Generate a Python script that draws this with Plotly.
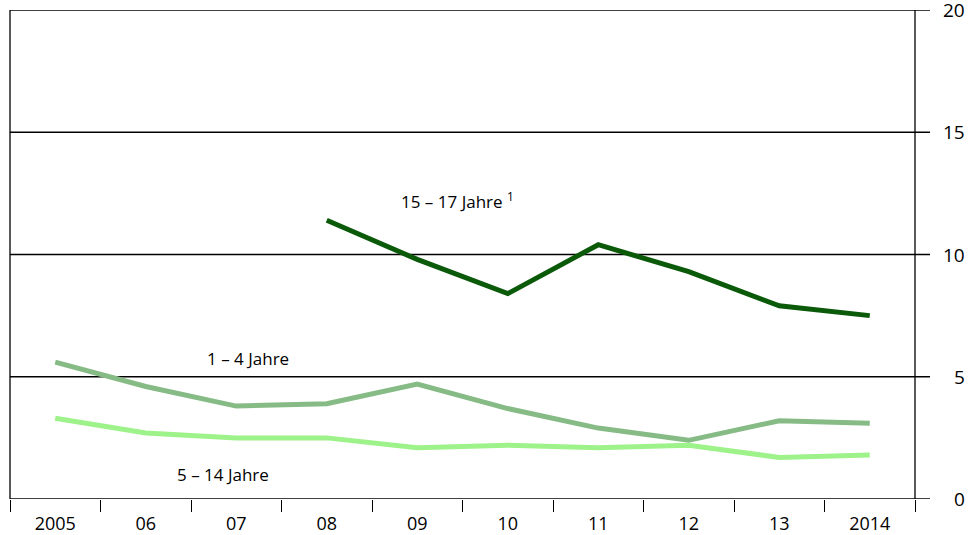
import plotly.graph_objects as go

years = ["2005", "06", "07", "08", "09", "10", "11", "12", "13", "2014"]
age_1_4 = [5.6, 4.6, 3.8, 3.9, 4.7, 3.7, 2.9, 2.4, 3.2, 3.1]
age_5_14 = [3.3, 2.7, 2.5, 2.5, 2.1, 2.2, 2.1, 2.2, 1.7, 1.8]
age_15_17 = [None, None, None, 11.4, 9.8, 8.4, 10.4, 9.3, 7.9, 7.5]
y_ticks = [0, 5, 10, 15, 20]

FONT = "Open Sans"
xs = list(range(len(years)))

fig = go.Figure()
fig.add_trace(go.Scatter(x=xs, y=age_5_14, mode="lines",
                         line=dict(color="#9ef28a", width=5), hoverinfo="skip"))
fig.add_trace(go.Scatter(x=xs, y=age_1_4, mode="lines",
                         line=dict(color="#86bb86", width=5), hoverinfo="skip"))
fig.add_trace(go.Scatter(x=xs, y=age_15_17, mode="lines",
                         line=dict(color="#0a5a0a", width=5), hoverinfo="skip",
                         connectgaps=False))

# plot area is 905 px wide (page x 10..915)
for v in y_ticks:
    fig.add_shape(type="line", xref="paper", yref="y", x0=0, x1=1.0166, y0=v, y1=v,
                  line=dict(color="black", width=1.3), layer="below")
    fig.add_annotation(xref="paper", yref="y", x=1.057, y=v, text=str(v),
                       showarrow=False, xanchor="right", yanchor="middle",
                       font=dict(family=FONT, size=19, color="black"))

fig.add_shape(type="line", xref="paper", yref="y", x0=0, x1=0, y0=0, y1=20,
              line=dict(color="black", width=1.3))
fig.add_shape(type="line", xref="paper", yref="y", x0=1, x1=1, y0=0, y1=20,
              line=dict(color="black", width=1.3))

fig.add_annotation(x=4.45, y=12.2, text="15 – 17 Jahre <sup>1</sup>", showarrow=False,
                   font=dict(family=FONT, size=17, color="black"))
fig.add_annotation(x=2.13, y=5.75, text="1 – 4 Jahre", showarrow=False,
                   font=dict(family=FONT, size=17, color="black"))
fig.add_annotation(x=1.85, y=1.0, text="5 – 14 Jahre", showarrow=False,
                   font=dict(family=FONT, size=17, color="black"))

fig.update_layout(
    width=970, height=535,
    margin=dict(l=10, r=55, t=10, b=36, autoexpand=False),
    paper_bgcolor="white", plot_bgcolor="white",
    showlegend=False,
    xaxis=dict(
        range=[-0.5, 9.5], tickmode="array", tickvals=xs, ticktext=years,
        ticks="outside", ticklen=8, tickcolor="rgba(0,0,0,0)",
        showgrid=False, zeroline=False, showline=False, automargin=False,
        tickfont=dict(family=FONT, size=18, color="black"),
        minor=dict(tick0=-0.5, dtick=1, ticks="outside", ticklen=12,
                   tickcolor="black", tickwidth=1.3, showgrid=False),
        fixedrange=True,
    ),
    yaxis=dict(
        range=[0, 20], showgrid=False, zeroline=False, showline=False,
        showticklabels=False, ticks="", fixedrange=True, automargin=False,
    ),
)

fig.write_html("out.html", config={"displayModeBar": False},
               post_script="document.body.style.margin='0';")
